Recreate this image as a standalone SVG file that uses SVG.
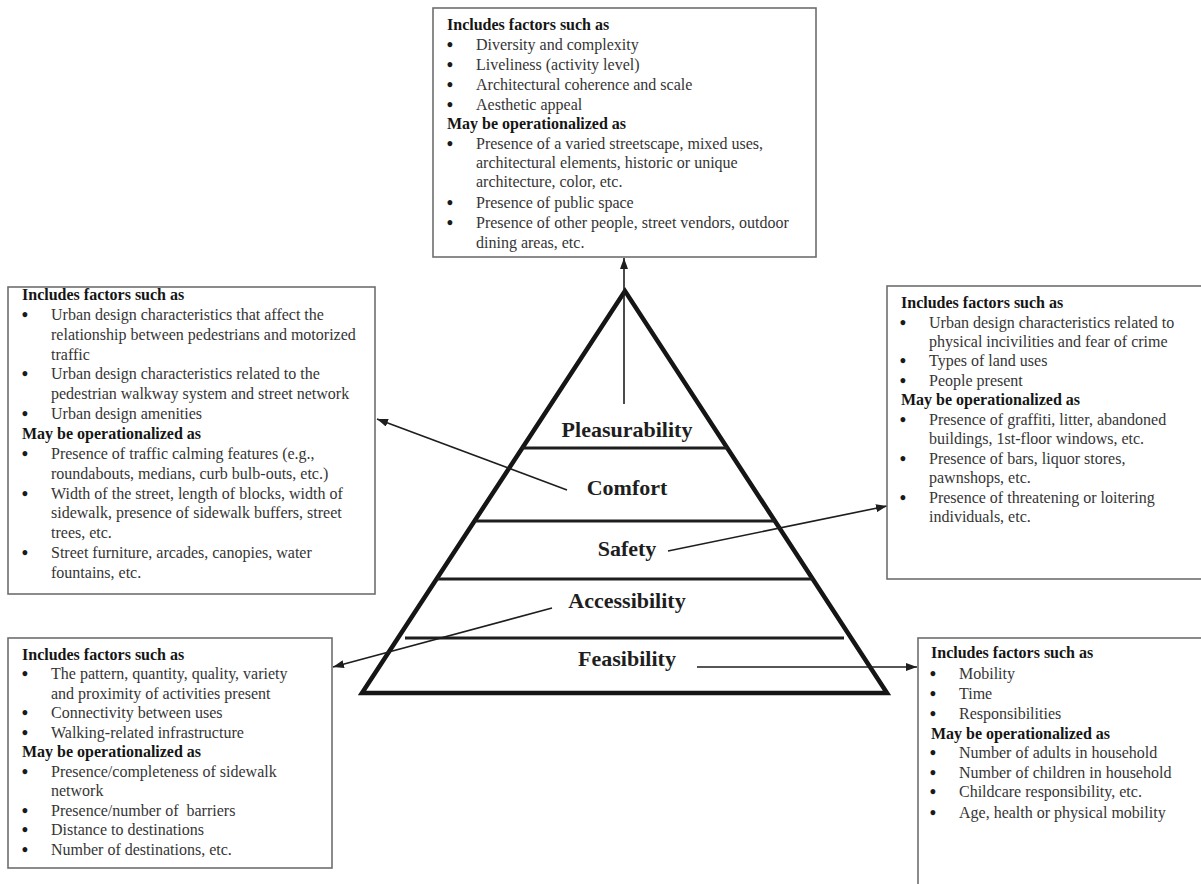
<svg xmlns="http://www.w3.org/2000/svg" width="1201" height="884" viewBox="0 0 1201 884">
<style>
.box{fill:#fff;stroke:#6e6e6e;stroke-width:1.6}
.h{font-family:"Liberation Serif",serif;font-size:16px;font-weight:bold;fill:#151515}
.t{font-family:"Liberation Serif",serif;font-size:16px;fill:#353535}
.b{font-family:"Liberation Serif",serif;font-size:18px;font-weight:bold;fill:#1a1a1a;text-anchor:middle}
.lbl{font-family:"Liberation Serif",serif;font-size:22px;font-weight:bold;fill:#1e1e1e;text-anchor:middle}
.conn{stroke:#1e1e1e;stroke-width:1.6;fill:none}
.sep{stroke:#1e1e1e;stroke-width:3}
</style>
<defs>
<marker id="ah" markerUnits="userSpaceOnUse" markerWidth="11" markerHeight="8" refX="11" refY="4" orient="auto">
<path d="M0,0 L11,4 L0,8 z" fill="#1e1e1e"/>
</marker>
</defs>
<rect width="1201" height="884" fill="#fff"/>

<g id="pyramid">
<polygon points="625,291 362,693 887,693" fill="none" stroke="#151515" stroke-width="4.5"/>
<line class="sep" x1="522" y1="448" x2="727" y2="448"/>
<line class="sep" x1="475" y1="521" x2="775" y2="521"/>
<line class="sep" x1="437" y1="579" x2="813" y2="579"/>
<line class="sep" x1="405" y1="638" x2="844" y2="638"/>
<text class="lbl" x="627" y="437">Pleasurability</text>
<text class="lbl" x="627" y="495">Comfort</text>
<text class="lbl" x="627" y="556">Safety</text>
<text class="lbl" x="627" y="608">Accessibility</text>
<text class="lbl" x="627" y="666">Feasibility</text>
</g>

<g id="connectors">
<line class="conn" x1="624" y1="404" x2="624" y2="258" marker-end="url(#ah)"/>
<line class="conn" x1="567" y1="490" x2="377" y2="419" marker-end="url(#ah)"/>
<line class="conn" x1="668" y1="551" x2="887" y2="506" marker-end="url(#ah)"/>
<line class="conn" x1="552" y1="608" x2="333" y2="667" marker-end="url(#ah)"/>
<line class="conn" x1="697" y1="667" x2="917" y2="667" marker-end="url(#ah)"/>
</g>

<g id="pleasurability-box">
<rect class="box" x="433" y="8" width="383" height="249"/>
<text class="h" x="447" y="30">Includes factors such as</text>
<text class="b" x="450" y="51">•</text><text class="t" x="476" y="50">Diversity and complexity</text>
<text class="b" x="450" y="71">•</text><text class="t" x="476" y="70">Liveliness (activity level)</text>
<text class="b" x="450" y="91">•</text><text class="t" x="476" y="90">Architectural coherence and scale</text>
<text class="b" x="450" y="111">•</text><text class="t" x="476" y="110">Aesthetic appeal</text>
<text class="h" x="447" y="129">May be operationalized as</text>
<text class="b" x="450" y="150">•</text><text class="t" x="476" y="149">Presence of a varied streetscape, mixed uses,</text>
<text class="t" x="476" y="168">architectural elements, historic or unique</text>
<text class="t" x="476" y="187">architecture, color, etc.</text>
<text class="b" x="450" y="209">•</text><text class="t" x="476" y="208">Presence of public space</text>
<text class="b" x="450" y="229">•</text><text class="t" x="476" y="228">Presence of other people, street vendors, outdoor</text>
<text class="t" x="476" y="248">dining areas, etc.</text>
</g>

<g id="comfort-box">
<rect class="box" x="8" y="287" width="367" height="307"/>
<text class="h" x="22" y="300">Includes factors such as</text>
<text class="b" x="25" y="321">•</text><text class="t" x="51" y="320">Urban design characteristics that affect the</text>
<text class="t" x="51" y="340">relationship between pedestrians and motorized</text>
<text class="t" x="51" y="360">traffic</text>
<text class="b" x="25" y="380">•</text><text class="t" x="51" y="379">Urban design characteristics related to the</text>
<text class="t" x="51" y="399">pedestrian walkway system and street network</text>
<text class="b" x="25" y="420">•</text><text class="t" x="51" y="419">Urban design amenities</text>
<text class="h" x="22" y="439">May be operationalized as</text>
<text class="b" x="25" y="460">•</text><text class="t" x="51" y="459">Presence of traffic calming features (e.g.,</text>
<text class="t" x="51" y="479">roundabouts, medians, curb bulb-outs, etc.)</text>
<text class="b" x="25" y="500">•</text><text class="t" x="51" y="499">Width of the street, length of blocks, width of</text>
<text class="t" x="51" y="518">sidewalk, presence of sidewalk buffers, street</text>
<text class="t" x="51" y="538">trees, etc.</text>
<text class="b" x="25" y="559">•</text><text class="t" x="51" y="558">Street furniture, arcades, canopies, water</text>
<text class="t" x="51" y="578">fountains, etc.</text>
</g>

<g id="safety-box">
<rect class="box" x="887" y="286" width="330" height="293"/>
<text class="h" x="901" y="308">Includes factors such as</text>
<text class="b" x="903" y="329">•</text><text class="t" x="929" y="328">Urban design characteristics related to</text>
<text class="t" x="929" y="347">physical incivilities and fear of crime</text>
<text class="b" x="903" y="367">•</text><text class="t" x="929" y="366">Types of land uses</text>
<text class="b" x="903" y="387">•</text><text class="t" x="929" y="386">People present</text>
<text class="h" x="901" y="405">May be operationalized as</text>
<text class="b" x="903" y="426">•</text><text class="t" x="929" y="425">Presence of graffiti, litter, abandoned</text>
<text class="t" x="929" y="444">buildings, 1st-floor windows, etc.</text>
<text class="b" x="903" y="465">•</text><text class="t" x="929" y="464">Presence of bars, liquor stores,</text>
<text class="t" x="929" y="483">pawnshops, etc.</text>
<text class="b" x="903" y="504">•</text><text class="t" x="929" y="503">Presence of threatening or loitering</text>
<text class="t" x="929" y="522">individuals, etc.</text>
</g>

<g id="accessibility-box">
<rect class="box" x="8" y="638" width="324" height="230"/>
<text class="h" x="22" y="660">Includes factors such as</text>
<text class="b" x="25" y="680">•</text><text class="t" x="51" y="679">The pattern, quantity, quality, variety</text>
<text class="t" x="51" y="699">and proximity of activities present</text>
<text class="b" x="25" y="719">•</text><text class="t" x="51" y="718">Connectivity between uses</text>
<text class="b" x="25" y="739">•</text><text class="t" x="51" y="738">Walking-related infrastructure</text>
<text class="h" x="22" y="757">May be operationalized as</text>
<text class="b" x="25" y="778">•</text><text class="t" x="51" y="777">Presence/completeness of sidewalk</text>
<text class="t" x="51" y="796">network</text>
<text class="b" x="25" y="817">•</text><text class="t" x="51" y="816" xml:space="preserve">Presence/number of  barriers</text>
<text class="b" x="25" y="836">•</text><text class="t" x="51" y="835">Distance to destinations</text>
<text class="b" x="25" y="856">•</text><text class="t" x="51" y="855">Number of destinations, etc.</text>
</g>

<g id="feasibility-box">
<rect class="box" x="918" y="638" width="300" height="270"/>
<text class="h" x="931" y="658">Includes factors such as</text>
<text class="b" x="933" y="680">•</text><text class="t" x="959" y="679">Mobility</text>
<text class="b" x="933" y="700">•</text><text class="t" x="959" y="699">Time</text>
<text class="b" x="933" y="720">•</text><text class="t" x="959" y="719">Responsibilities</text>
<text class="h" x="931" y="739">May be operationalized as</text>
<text class="b" x="933" y="759">•</text><text class="t" x="959" y="758">Number of adults in household</text>
<text class="b" x="933" y="779">•</text><text class="t" x="959" y="778">Number of children in household</text>
<text class="b" x="933" y="798">•</text><text class="t" x="959" y="797">Childcare responsibility, etc.</text>
<text class="b" x="933" y="819">•</text><text class="t" x="959" y="818">Age, health or physical mobility</text>
</g>
</svg>
